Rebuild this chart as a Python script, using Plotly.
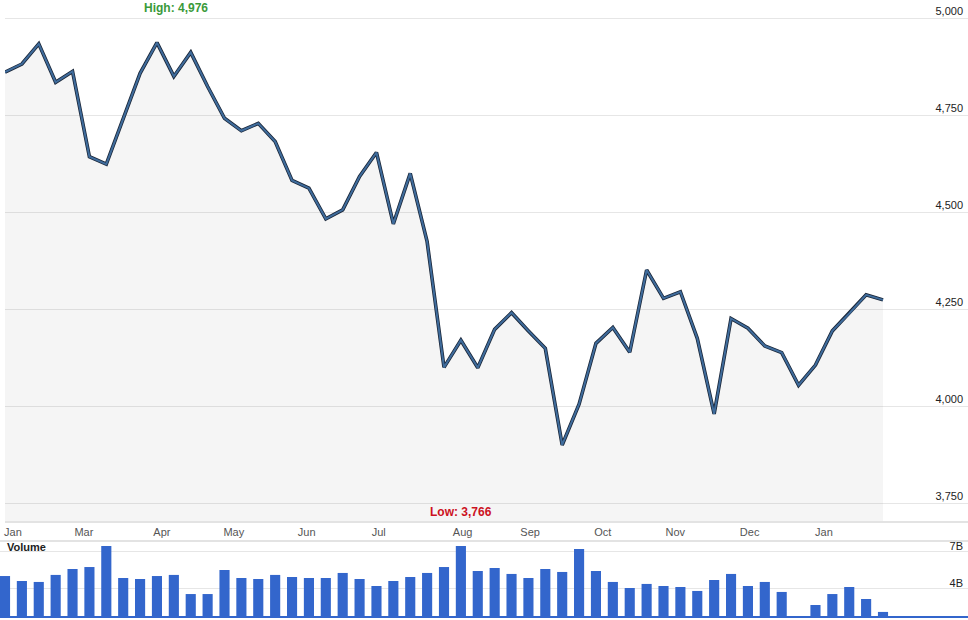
import plotly.graph_objects as go

# ---- data (weekly) ----
weeks = list(range(53))
close = [4861, 4882, 4934, 4835, 4863, 4643, 4624, 4741, 4858, 4937,
         4850, 4912, 4824, 4742, 4710, 4729, 4682, 4582, 4562, 4483,
         4506, 4592, 4654, 4470, 4600, 4424, 4100, 4170, 4099, 4198,
         4241, 4194, 4149, 3900, 4005, 4162, 4203, 4139, 4351, 4278,
         4295, 4175, 3980, 4226, 4201, 4155, 4138, 4054, 4106, 4194,
         4239, 4287, 4274]
volume_b = [5.05, 4.65, 4.57, 5.14, 5.62, 5.78, 7.49, 4.89, 4.81, 5.05,
            5.14, 3.59, 3.59, 5.54, 4.89, 4.81, 5.14, 4.97, 4.89, 4.89,
            5.30, 4.81, 4.24, 4.65, 4.97, 5.30, 5.78, 7.49, 5.46, 5.70,
            5.22, 4.89, 5.62, 5.38, 7.24, 5.46, 4.57, 4.08, 4.41, 4.24,
            4.16, 3.84, 4.73, 5.22, 4.24, 4.57, 3.76, 0, 2.70, 3.59,
            4.16, 3.19, 2.14]
month_labels = ["Jan", "Mar", "Apr", "May", "Jun", "Jul", "Aug",
                "Sep", "Oct", "Nov", "Dec", "Jan"]
month_pos = [0.47, 4.67, 9.29, 13.55, 17.87, 22.13, 27.1,
             31.1, 35.4, 39.7, 44.1, 48.5]
price_ticks = [3750, 4000, 4250, 4500, 4750, 5000]
vol_ticks = [4, 7]
vol_tick_text = ["4B", "7B"]
high_text = "High: 4,976"
low_text = "Low: 3,766"

W, H = 968, 620
FONT = "Liberation Sans, Arial, sans-serif"

fig = go.Figure()
fig.add_trace(go.Scatter(x=weeks, y=close, mode="lines",
                         line=dict(color="#1a2638", width=3.6),
                         fill="tozeroy", fillcolor="rgba(0,0,0,0.04)",
                         xaxis="x", yaxis="y", hoverinfo="skip"))
fig.add_trace(go.Scatter(x=weeks, y=close, mode="lines",
                         line=dict(color="#3f6c9c", width=2.0),
                         xaxis="x", yaxis="y"))
fig.add_trace(go.Bar(x=weeks, y=volume_b, marker=dict(color="#3366cc", line=dict(width=0)),
                     width=0.6, xaxis="x2", yaxis="y2"))

px_per_idx = (883 - 5) / 52
fig.update_layout(
    width=W, height=H,
    margin=dict(l=0, r=0, t=0, b=0),
    paper_bgcolor="white", plot_bgcolor="white",
    showlegend=False,
    font=dict(family=FONT, size=11, color="#333"),
    xaxis=dict(domain=[5 / W, 1], range=[0, (W - 5) / px_per_idx],
               tickvals=month_pos, ticktext=month_labels,
               tickfont=dict(size=11, color="#555"),
               showgrid=False, zeroline=False,
               showline=True, linecolor="#e3e3e3", linewidth=2,
               ticks="", anchor="y"),
    yaxis=dict(domain=[1 - 521 / H, 1], range=[3704, 5047],
               side="right", ticklabelposition="inside",
               ticklabeloverflow="allow",
               tickvals=price_ticks, tickformat=",",
               tickfont=dict(size=11, color="#222"),
               ticklabelshift=-7, ticklabelstandoff=2,
               gridcolor="#e6e6e6", gridwidth=1,
               zeroline=False, showline=False, anchor="x"),
    xaxis2=dict(domain=[0, 1], range=[-5 / px_per_idx, (W - 5) / px_per_idx],
                showticklabels=False, showgrid=False, zeroline=False,
                showline=True, linecolor="#3366cc", linewidth=2,
                ticks="", anchor="y2"),
    yaxis2=dict(domain=[1 - 616 / H, 1 - 541 / H], range=[1.81, 7.89],
                side="right", ticklabelposition="inside",
                ticklabeloverflow="allow",
                tickvals=vol_ticks, ticktext=vol_tick_text,
                tickfont=dict(size=11, color="#222"),
                ticklabelshift=-6, ticklabelstandoff=2,
                gridcolor="#e6e6e6", gridwidth=1,
                zeroline=False, showline=False, anchor="x2"),
    shapes=[dict(type="line", xref="paper", yref="paper",
                 x0=0, x1=1, y0=1 - 541 / H, y1=1 - 541 / H,
                 line=dict(color="#e3e3e3", width=2))],
    annotations=[
        dict(text="<b>" + high_text + "</b>", xref="paper", yref="paper",
             x=176 / W, y=1 - 8 / H, xanchor="center", yanchor="middle",
             showarrow=False, font=dict(size=12, color="#3a9a3a", family=FONT)),
        dict(text="<b>" + low_text + "</b>", xref="paper", yref="paper",
             x=461 / W, y=1 - 512 / H, xanchor="center", yanchor="middle",
             showarrow=False, font=dict(size=12, color="#cc1122", family=FONT)),
        dict(text="<b>Volume</b>", xref="paper", yref="paper",
             x=5 / W, y=1 - 547 / H, xanchor="left", yanchor="middle",
             showarrow=False, font=dict(size=11, color="#222", family=FONT)),
    ],
)

fig.write_html(
    "out.html",
    config={"displayModeBar": False},
    post_script="document.body.style.margin='0';document.body.style.padding='0';"
                "document.documentElement.style.overflow='hidden';",
)
